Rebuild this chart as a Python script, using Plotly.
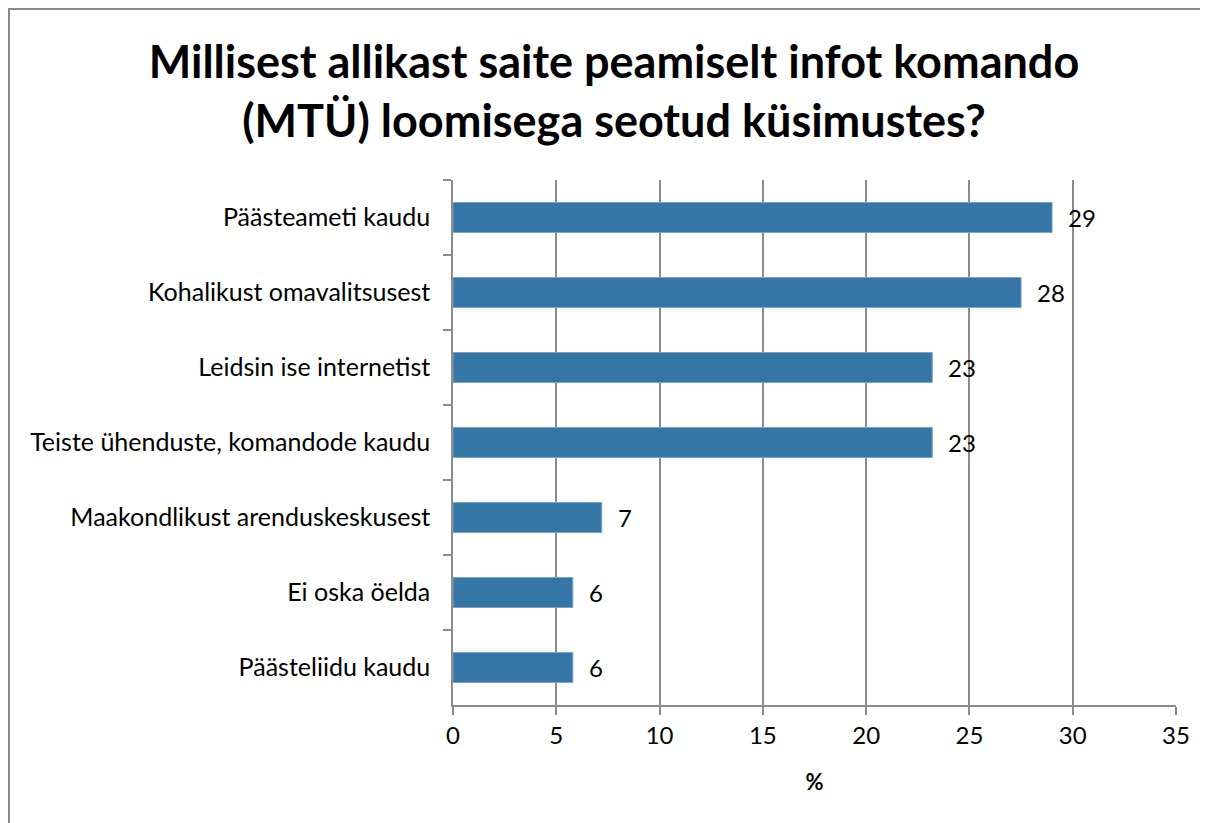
import plotly.graph_objects as go

categories = [
    "Päästeameti kaudu",
    "Kohalikust omavalitsusest",
    "Leidsin ise internetist",
    "Teiste ühenduste, komandode kaudu",
    "Maakondlikust arenduskeskusest",
    "Ei oska öelda",
    "Päästeliidu kaudu",
]
values = [29.0, 27.5, 23.2, 23.2, 7.2, 5.8, 5.8]
labels = ["29", "28", "23", "23", "7", "6", "6"]
x_ticks = [0, 5, 10, 15, 20, 25, 30, 35]

title_text = "Millisest allikast saite peamiselt infot komando<br>(MTÜ) loomisega seotud küsimustes?"
FONT = "Lato"
GRID = "#8c8c8c"

fig = go.Figure()
fig.add_trace(go.Bar(
    y=categories, x=values, orientation="h",
    marker=dict(color="#3576a6", line=dict(color="#79a3c8", width=1)),
    width=0.4,
    hoverinfo="skip",
))

for c, v, t in zip(categories, values, labels):
    fig.add_annotation(x=v, y=c, text=t, showarrow=False, xanchor="left",
                       xshift=14, font=dict(family=FONT, size=24, color="#000"))

W, H = 1208, 823
L, R, T, B = 445, 40, 172, 126
pw, ph = W - L - R, H - T - B
fx0 = (1 - L) / pw
fy1 = 1 + (T - 1) / ph
fig.add_shape(type="rect", xref="paper", yref="paper",
              x0=fx0, x1=1 + (R + 20) / pw, y0=-(B + 20) / ph, y1=fy1,
              line=dict(color="#8a8a8a", width=2), fillcolor="rgba(0,0,0,0)", layer="below")

fig.update_layout(
    width=W, height=H,
    margin=dict(l=L, r=R, t=T, b=B),
    paper_bgcolor="white", plot_bgcolor="white",
    showlegend=False,
    bargap=0.6,
    title=dict(text=title_text, x=606 / W, xref="container", xanchor="center",
               y=1 - 70 / H, yanchor="top",
               font=dict(family=FONT, size=45, color="#000", weight="bold")),
    font=dict(family=FONT, size=24, color="#000"),
)
fig.update_xaxes(
    range=[0, 35], tickvals=x_ticks, ticktext=[str(v) for v in x_ticks],
    showgrid=True, gridcolor=GRID, gridwidth=1.5,
    showline=True, linecolor=GRID, linewidth=1.5,
    ticks="outside", ticklen=8, tickcolor=GRID, tickwidth=1.5,
    zeroline=False,
    tickfont=dict(family=FONT, size=24, color="#000"),
    title=dict(text="<b>%</b>", font=dict(family=FONT, size=22, color="#000"), standoff=27),
)
fig.update_yaxes(
    autorange=False, range=[6.5, -0.5], categoryorder="array", categoryarray=categories,
    showgrid=False, showline=True, linecolor=GRID, linewidth=1.5,
    ticks="outside", ticklen=8, tickcolor=GRID, tickwidth=1.5, tickson="boundaries",
    tickfont=dict(family=FONT, size=25, color="#000"),
    ticklabelstandoff=16,
)

fig.write_html("out.html")
